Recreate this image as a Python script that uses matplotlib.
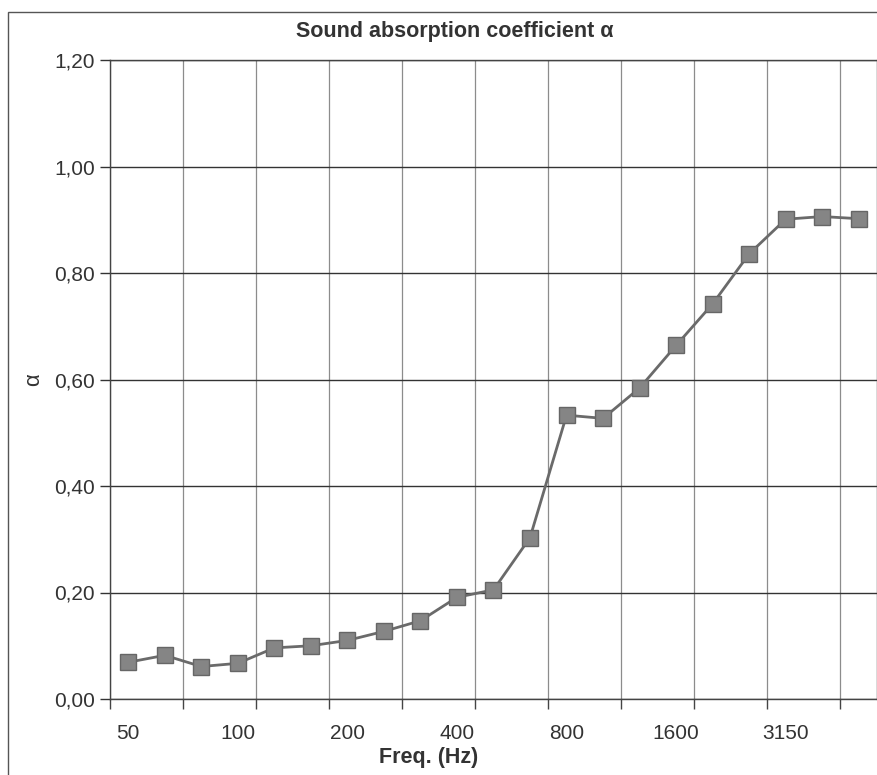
import matplotlib
matplotlib.use("Agg")
import matplotlib.pyplot as plt
from matplotlib.patches import Rectangle

plt.rcParams['font.family'] = ['Liberation Sans', 'DejaVu Sans']

freqs = ["50", "63", "80", "100", "125", "160", "200", "250", "315", "400", "500",
         "630", "800", "1000", "1250", "1600", "2000", "2500", "3150", "4000", "5000"]
alpha = [0.069, 0.082, 0.061, 0.067, 0.096, 0.100, 0.110, 0.127, 0.147, 0.191, 0.205,
         0.303, 0.533, 0.527, 0.584, 0.664, 0.742, 0.836, 0.901, 0.906, 0.902]
label_every = 3
yticks = [0.0, 0.2, 0.4, 0.6, 0.8, 1.0, 1.2]

W, H = 878, 775
fig = plt.figure(figsize=(W / 100, H / 100), dpi=100)
ax = fig.add_axes([110 / W, 1 - 699 / H, (877 - 110) / W, (699 - 60) / H])

n = len(freqs)
x = list(range(n))
ax.plot(x, alpha, color='#6a6a6a', lw=2.0, marker='s', markersize=11,
        markerfacecolor='#858585', markeredgecolor='#666666', markeredgewidth=1.0,
        zorder=3, clip_on=False)

ax.set_xlim(-0.5, n - 0.5)
ax.set_ylim(0, 1.2)

# x: labels every 3rd category, tick marks / gridlines at every 2nd category boundary
ax.set_xticks(x[::label_every])
ax.set_xticklabels(freqs[::label_every])
ax.tick_params(axis='x', which='major', length=0, pad=18, labelsize=15, colors='#333333')
bounds = [b - 0.5 for b in range(0, n, 2)]
ax.set_xticks(bounds, minor=True)
ax.tick_params(axis='x', which='minor', length=7, width=1.0, direction='out', color='#444444')
ax.grid(True, axis='x', which='minor', color='#8c8c8c', lw=0.9)

ax.set_yticks(yticks)
ax.set_yticklabels([f"{v:.2f}".replace('.', ',') for v in yticks])
ax.tick_params(axis='y', length=7, width=1.0, direction='out', labelsize=15,
               colors='#333333', pad=4)
ax.grid(True, axis='y', which='major', color='#333333', lw=1.0)
ax.set_axisbelow(True)

for s in ax.spines.values():
    s.set_color('#444444')
    s.set_linewidth(1.0)

fig.text(455 / W, 1 - 32 / H, "Sound absorption coefficient α", ha='center', va='center',
         fontsize=15.5, fontweight='bold', color='#333333')
fig.text(429 / W, 1 - 757 / H, "Freq. (Hz)", ha='center', va='center',
         fontsize=15.5, fontweight='bold', color='#333333')
fig.text(34 / W, 1 - 380 / H, "α", ha='center', va='center', rotation=90,
         fontsize=16, color='#333333')

# outer chart frame
fig.patches.append(Rectangle((8 / W, -0.1), 1.0, 1 - 12 / H + 0.1, transform=fig.transFigure,
                             fill=False, edgecolor='#555555', lw=1.0))

fig.savefig("out.png", dpi=100)
